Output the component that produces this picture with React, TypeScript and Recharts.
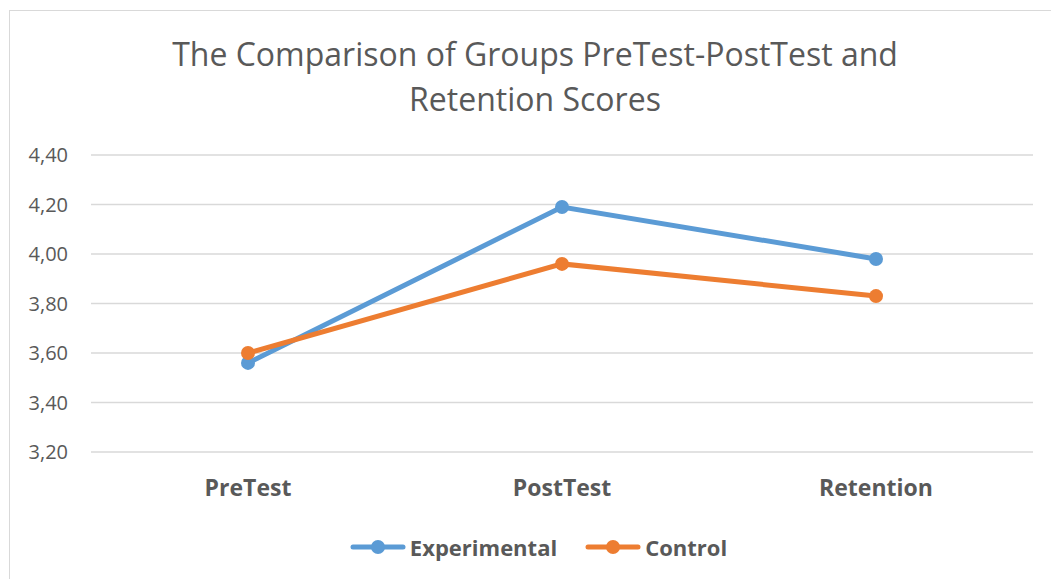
import React from 'react';
import { LineChart, Line, XAxis, YAxis, CartesianGrid, Legend } from 'recharts';

const categories = ['PreTest', 'PostTest', 'Retention'];
const experimental = [3.56, 4.19, 3.98];
const control = [3.6, 3.96, 3.83];
const yTicks = [3.2, 3.4, 3.6, 3.8, 4.0, 4.2, 4.4];
const seriesOrder = ['Experimental', 'Control'];
const titleLines = ['The Comparison of Groups PreTest-PostTest and', 'Retention Scores'];

const COLORS: Record<string, string> = { Experimental: '#5B9BD5', Control: '#ED7D31' };
const FONT = "'Open Sans', Lato, sans-serif";
const TEXT = '#595959';

const data = categories.map((c, i) => ({
  name: c,
  Experimental: experimental[i],
  Control: control[i],
}));

const renderLegend = (props: any) => {
  const payload = [...(props.payload || [])].sort(
    (a: any, b: any) => seriesOrder.indexOf(a.value) - seriesOrder.indexOf(b.value)
  );
  return (
    <div style={{ display: 'flex', justifyContent: 'center', alignItems: 'center', fontFamily: FONT }}>
      {payload.map((p: any, i: number) => (
        <div key={p.value} style={{ display: 'flex', alignItems: 'center', marginLeft: i === 0 ? 0 : 28 }}>
          <svg width={56} height={18}>
            <line x1={3} y1={9} x2={53} y2={9} stroke={p.color} strokeWidth={5} strokeLinecap="round" />
            <circle cx={28} cy={9} r={7} fill={p.color} />
          </svg>
          <span style={{ marginLeft: 4, fontWeight: 700, fontSize: 22, color: TEXT }}>{p.value}</span>
        </div>
      ))}
    </div>
  );
};

export default function App() {
  return (
    <div style={{ position: 'absolute', left: 0, top: 0, width: 1051, height: 579, background: '#fff', overflow: 'hidden' }}>
      <div
        style={{
          position: 'absolute',
          left: 9,
          top: 10,
          width: 1060,
          height: 600,
          border: '1.5px solid #d9d9d9',
          boxSizing: 'border-box',
        }}
      />
      <div
        style={{
          position: 'absolute',
          left: 0,
          top: 31,
          width: 1070,
          textAlign: 'center',
          fontFamily: FONT,
          fontSize: 32,
          lineHeight: '45px',
          color: TEXT,
        }}
      >
        {titleLines.map((t) => (
          <div key={t}>{t}</div>
        ))}
      </div>
      <div style={{ position: 'absolute', left: 0, top: 0 }}>
        <LineChart width={1051} height={579} data={data} margin={{ top: 155, right: 18, bottom: 87, left: 31 }}>
          <CartesianGrid vertical={false} stroke="#d9d9d9" strokeWidth={1.5} />
          <XAxis
            dataKey="name"
            height={40}
            padding={{ left: 157, right: 157 }}
            axisLine={false}
            tickLine={false}
            tickSize={6}
            tickMargin={22}
            tick={{ fill: TEXT, fontSize: 23, fontWeight: 700, fontFamily: FONT }}
          />
          <YAxis
            width={60}
            domain={[3.2, 4.4]}
            ticks={yTicks}
            axisLine={false}
            tickLine={false}
            tickSize={6}
            tickMargin={17}
            tickFormatter={(v: number) => v.toFixed(2).replace('.', ',')}
            tick={{ fill: TEXT, fontSize: 20, fontFamily: FONT }}
          />
          <Legend
            layout="horizontal"
            verticalAlign="middle"
            align="center"
            content={renderLegend}
            wrapperStyle={{ position: 'absolute', left: 0, top: 532, width: 1077 }}
          />
          <Line
            type="linear"
            dataKey="Experimental"
            stroke={COLORS.Experimental}
            strokeWidth={5}
            dot={{ r: 7, fill: COLORS.Experimental, stroke: COLORS.Experimental, strokeWidth: 0 }}
            activeDot={false}
            isAnimationActive={false}
          />
          <Line
            type="linear"
            dataKey="Control"
            stroke={COLORS.Control}
            strokeWidth={5}
            dot={{ r: 7, fill: COLORS.Control, stroke: COLORS.Control, strokeWidth: 0 }}
            activeDot={false}
            isAnimationActive={false}
          />
        </LineChart>
      </div>
    </div>
  );
}
